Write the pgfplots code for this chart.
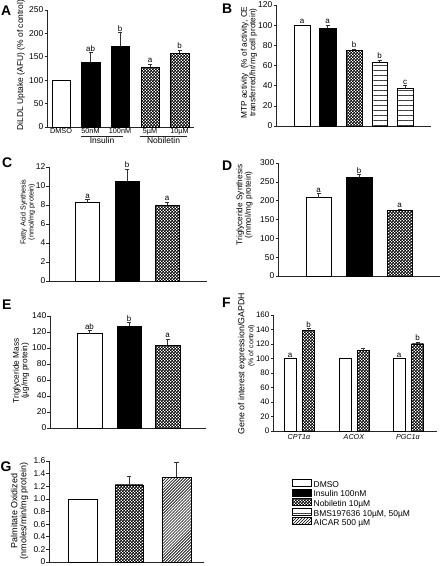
\documentclass[border=0pt]{standalone}
\usepackage{pgfplots}
\pgfplotsset{compat=1.18}
\usepackage{fontspec}
\setmainfont{Liberation Sans}
\usetikzlibrary{patterns}
\pgfdeclarepatternformonly{checker}{\pgfqpoint{0pt}{0pt}}{\pgfqpoint{3pt}{3pt}}{\pgfqpoint{3pt}{3pt}}{%
  \pgfpathrectangle{\pgfqpoint{0pt}{0pt}}{\pgfqpoint{1.6pt}{1.6pt}}%
  \pgfpathrectangle{\pgfqpoint{1.5pt}{1.5pt}}{\pgfqpoint{1.6pt}{1.6pt}}%
  \pgfusepath{fill}}
\pgfdeclarepatternformonly{hlines}{\pgfqpoint{-0.1pt}{0pt}}{\pgfqpoint{5.1pt}{5pt}}{\pgfqpoint{5pt}{5pt}}{%
  \pgfsetlinewidth{0.8pt}%
  \pgfpathmoveto{\pgfqpoint{-0.1pt}{2.5pt}}\pgfpathlineto{\pgfqpoint{5.1pt}{2.5pt}}\pgfusepath{stroke}}
\pgfdeclarepatternformonly{diag}{\pgfqpoint{-0.5pt}{-0.5pt}}{\pgfqpoint{3.5pt}{3.5pt}}{\pgfqpoint{3pt}{3pt}}{%
  \pgfsetlinewidth{0.6pt}%
  \pgfpathmoveto{\pgfqpoint{-0.1pt}{-0.1pt}}\pgfpathlineto{\pgfqpoint{3.1pt}{3.1pt}}\pgfusepath{stroke}}
\pgfplotsset{
  panel/.style={
    scale only axis, anchor=south west, clip=false,
    axis lines*=left, axis line style={-, black!85, line width=0.7bp},
    tick align=outside, ytick pos=left, xtick=\empty,
    major tick length=2.5bp, tick style={black!85, line width=0.6bp},
    ymin=0, xmin=0,
    ticklabel style={font=\fontsize{8.5}{9}\selectfont, inner sep=1bp},
    /pgf/number format/assume math mode=true,
    every axis y label/.style={rotate=90, anchor=center, align=center, font=\fontsize{8.3}{8.5}\selectfont},
  },
  bb/.style={ybar, bar width=#1, bar shift=0pt, draw=black, line width=0.6bp},
  eb/.style={error bars/.cd, y dir=plus, y explicit,
     error bar style={black!80, line width=0.5bp},
     error mark options={rotate=90, black!80, mark size=2bp, line width=0.5bp}},
}
\tikzset{sig/.style={anchor=south, inner sep=1bp, font=\fontsize{8}{9}\selectfont},
  plet/.style={anchor=base west, inner sep=0pt, font=\bfseries\fontsize{14}{14}\selectfont}}
\begin{document}
\begin{tikzpicture}
\useasboundingbox (0,0) rectangle (441bp,566bp);
% ---------- A ----------
\begin{axis}[panel, at={(47bp,439bp)}, width=147bp, height=117bp,
  xmax=147, ymax=250, ytick={0,50,100,150,200,250},
  xtick={14,43.5,73,103,132.5}, xticklabels={DMSO,50nM,100nM,5µM,10µM},
  x tick style={draw=none}, xticklabel style={yshift=2.5bp, font=\fontsize{7.3}{8}\selectfont},
  ylabel={DiLDL Uptake (AFU) (\% of control)},
  ylabel style={font=\fontsize{8.5}{9}\selectfont, at={(axis description cs:-0.177,0.53)}}]
\addplot[bb=18, fill=white] coordinates {(14,100)};
\addplot[bb=19, fill=black, eb] coordinates {(43.5,138) +- (0,21)};
\addplot[bb=18, fill=black, eb] coordinates {(73,173) +- (0,29)};
\addplot[bb=18, pattern=checker, eb] coordinates {(103,128) +- (0,7)};
\addplot[bb=19, pattern=checker, eb] coordinates {(132.5,158) +- (0,7)};
\node[sig] at (axis cs:43.5,159) {ab};
\node[sig] at (axis cs:73,202) {b};
\node[sig] at (axis cs:103,135) {a};
\node[sig] at (axis cs:132.5,165) {b};
\draw[black!85, line width=0.6bp] ([yshift=-9bp]axis cs:34,0) -- ([yshift=-9bp]axis cs:76,0);
\draw[black!85, line width=0.6bp] ([yshift=-9bp]axis cs:93,0) -- ([yshift=-9bp]axis cs:140,0);
\node[anchor=north, inner sep=0pt, font=\fontsize{8.5}{9}\selectfont] at ([yshift=-10.5bp]axis cs:55,0) {Insulin};
\node[anchor=north, inner sep=0pt, font=\fontsize{8.5}{9}\selectfont] at ([yshift=-10.5bp]axis cs:116.5,0) {Nobiletin};
\end{axis}
% ---------- B ----------
\begin{axis}[panel, at={(276bp,440bp)}, width=155bp, height=121bp,
  xmax=155, ymax=120, ytick={0,20,40,60,80,100,120},
  ylabel={MTP activity\ \ (\% of activity, CE\\transferred/hr/mg cell protein)},
  ylabel style={at={(axis description cs:-0.174,0.525)}}]
\addplot[bb=16, fill=white] coordinates {(26,100)};
\addplot[bb=17, fill=black, eb] coordinates {(51.5,97) +- (0,3)};
\addplot[bb=16, pattern=checker, eb] coordinates {(78,75) +- (0,1.5)};
\addplot[bb=15, pattern=hlines, pattern color=black!75, eb] coordinates {(103.5,63) +- (0,2.5)};
\addplot[bb=16, pattern=hlines, pattern color=black!75, eb] coordinates {(129,37) +- (0,3)};
\node[sig] at (axis cs:26,100) {a};
\node[sig] at (axis cs:51.5,100) {a};
\node[sig] at (axis cs:78,76.5) {b};
\node[sig] at (axis cs:103.5,65.5) {b};
\node[sig] at (axis cs:129,40) {c};
\end{axis}
% ---------- C ----------
\begin{axis}[panel, at={(49bp,285bp)}, width=158bp, height=114bp,
  xmax=158, ymax=12, ytick={0,2,4,6,8,10,12},
  ylabel={Fatty Acid Synthesis\\(nmol/mg protein)},
  ylabel style={font=\fontsize{7.2}{8}\selectfont, at={(axis description cs:-0.135,0.605)}}]
\addplot[bb=24, fill=white, eb] coordinates {(38.5,8.25) +- (0,0.32)};
\addplot[bb=24, fill=black, eb] coordinates {(78,10.5) +- (0,1.3)};
\addplot[bb=24, pattern=checker, eb] coordinates {(118,8.0) +- (0,0.3)};
\node[sig] at (axis cs:38.5,8.57) {a};
\node[sig] at (axis cs:78,11.8) {b};
\node[sig] at (axis cs:118,8.3) {a};
\end{axis}
% ---------- D ----------
\begin{axis}[panel, at={(278bp,290bp)}, width=162bp, height=113bp,
  xmax=162, ymax=300, ytick={0,50,100,150,200,250,300},
  ylabel={Triglyceride Synthesis\\(mmol/mg protein)},
  ylabel style={at={(axis description cs:-0.207,0.628)}}]
\addplot[bb=25, fill=white, eb] coordinates {(40.5,208) +- (0,11)};
\addplot[bb=26, fill=black, eb] coordinates {(81,263) +- (0,7)};
\addplot[bb=25, pattern=checker, eb] coordinates {(121.5,175) +- (0,3)};
\node[sig] at (axis cs:40.5,219) {a};
\node[sig] at (axis cs:81,270) {b};
\node[sig] at (axis cs:121.5,178) {a};
\end{axis}
% ---------- E ----------
\begin{axis}[panel, at={(50bp,138bp)}, width=156bp, height=112bp,
  xmax=156, ymax=140, ytick={0,20,40,60,80,100,120,140},
  ylabel={Triglyceride Mass\\(µg/mg protein)},
  ylabel style={at={(axis description cs:-0.186,0.51)}}]
\addplot[bb=25, fill=white, eb] coordinates {(39.5,118) +- (0,4)};
\addplot[bb=24, fill=black, eb] coordinates {(79,127.5) +- (0,4.5)};
\addplot[bb=25, pattern=checker, eb] coordinates {(117.5,103.5) +- (0,7.5)};
\node[sig] at (axis cs:39.5,122) {ab};
\node[sig] at (axis cs:79,132) {b};
\node[sig] at (axis cs:117.5,111) {a};
\end{axis}
% ---------- F ----------
\begin{axis}[panel, at={(273bp,135bp)}, width=164bp, height=116bp,
  xmax=164, ymax=160, ytick={0,20,40,60,80,100,120,140,160},
  yticklabel style={font=\fontsize{8}{9}\selectfont},
  xtick={26,81,135}, xticklabels={\textit{CPT1α},\textit{ACOX},\textit{PGC1α}},
  x tick style={draw=none}, xticklabel style={font=\fontsize{7.2}{8}\selectfont},
  ylabel={Gene of interest expression/GAPDH\\{\fontsize{7}{8}\selectfont\hspace*{36bp}(\% of control)}},
  ylabel style={font=\fontsize{8.8}{9}\selectfont, at={(axis description cs:-0.162,0.58)}}]
\addplot[bb=12, fill=white] coordinates {(17,100)};
\addplot[bb=12, pattern=checker, eb] coordinates {(35.5,138.3) +- (0,3.3)};
\addplot[bb=12, fill=white] coordinates {(72,100)};
\addplot[bb=12, pattern=checker, eb] coordinates {(90,111) +- (0,3)};
\addplot[bb=12, fill=white] coordinates {(126,100)};
\addplot[bb=12, pattern=checker, eb] coordinates {(144.5,120) +- (0,3)};
\node[sig] at (axis cs:17,100) {a};
\node[sig] at (axis cs:35.5,141.6) {b};
\node[sig] at (axis cs:126,100) {a};
\node[sig] at (axis cs:144.5,123) {b};
\end{axis}
% ---------- G ----------
\begin{axis}[panel, at={(49bp,4bp)}, width=155bp, height=101bp,
  xmax=155, ymax=1.6, ytick={0,0.2,0.4,0.6,0.8,1.0,1.2,1.4,1.6},
  yticklabels={0,0.2,0.4,0.6,0.8,1.0,1.2,1.4,1.6},
  ylabel={Palmitate Oxidized\\(nmoles/min/mg protein)},
  ylabel style={font=\fontsize{9}{9}\selectfont, at={(axis description cs:-0.19,0.505)}},
  legend image code/.code={\draw[#1] (0bp,-1bp) rectangle (19bp,6bp);},
  legend style={at={(axis description cs:1.568,0.822)}, anchor=north west,
    draw=none, fill=none, inner sep=0pt, outer sep=0pt, row sep=-1.2bp,
    font=\fontsize{8.5}{9}\selectfont,
    nodes={inner sep=0.5bp, text height=6bp, text depth=2bp},
    /tikz/every odd column/.append style={column sep=1.5bp}},
  legend cell align=left]
\addplot[bb=29, fill=white, forget plot] coordinates {(33.5,1.0)};
\addplot[bb=28, pattern=checker, forget plot, eb] coordinates {(80,1.22) +- (0,0.14)};
\addplot[bb=29, pattern=diag, forget plot, eb] coordinates {(127.5,1.34) +- (0,0.24)};
\addlegendimage{fill=white, draw=black, line width=0.6bp}
\addlegendentry{DMSO}
\addlegendimage{fill=black, draw=black, line width=0.6bp}
\addlegendentry{Insulin 100nM}
\addlegendimage{pattern=checker, draw=black, line width=0.6bp}
\addlegendentry{Nobiletin 10µM}
\addlegendimage{pattern=hlines, pattern color=black!75, draw=black, line width=0.6bp}
\addlegendentry{BMS197636 10µM, 50µM}
\addlegendimage{pattern=diag, draw=black, line width=0.6bp}
\addlegendentry{AICAR 500 µM}
\end{axis}
% panel letters
\node[plet] at (1bp,550bp) {A};
\node[plet] at (222bp,552bp) {B};
\node[plet] at (2bp,398bp) {C};
\node[plet] at (222bp,395bp) {D};
\node[plet] at (2bp,256bp) {E};
\node[plet] at (222bp,258bp) {F};
\node[plet] at (0.5bp,94bp) {G};
\end{tikzpicture}
\end{document}
